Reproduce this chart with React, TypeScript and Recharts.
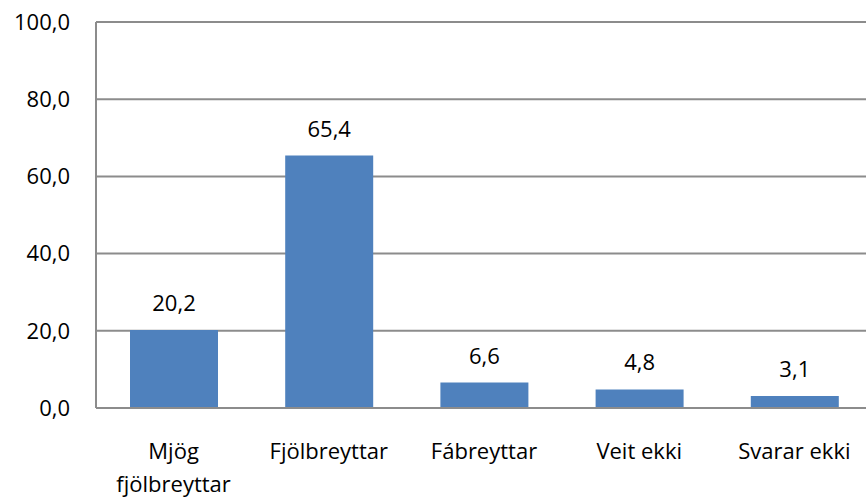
import React from "react";
import { BarChart, Bar, XAxis, YAxis, CartesianGrid, LabelList } from "recharts";

const categories = ["Mjög\nfjölbreyttar", "Fjölbreyttar", "Fábreyttar", "Veit ekki", "Svarar ekki"];
const values = [20.2, 65.4, 6.6, 4.8, 3.1];
const yTicks = [0, 20, 40, 60, 80, 100];

const data = categories.map((c, i) => ({ name: c, value: values[i] }));

const FONT = "'Open Sans', sans-serif";
const FS = 22;
const fmt = (v: number) => v.toFixed(1).replace(".", ",");

const XTick = (props: any) => {
  const { x, y, payload } = props;
  const lines = String(payload.value).split("\n");
  return (
    <g transform={`translate(${x},${y})`}>
      <text textAnchor="middle" fontFamily={FONT} fontSize={FS} fill="#000">
        {lines.map((l: string, i: number) => (
          <tspan key={i} x={0} y={51 + i * 33}>
            {l}
          </tspan>
        ))}
      </text>
    </g>
  );
};

export default function App() {
  return (
    <div style={{ position: "absolute", left: 0, top: 0, width: 866, height: 499, overflow: "hidden", background: "#fff" }}>
      <BarChart
        width={872}
        height={499}
        data={data}
        margin={{ top: 22, right: 0, left: 0, bottom: 0 }}
      >
        <CartesianGrid vertical={false} stroke="#8c8c8c" strokeWidth={2} />
        <XAxis
          dataKey="name"
          height={91}
          axisLine={{ stroke: "#8c8c8c", strokeWidth: 2 }}
          tickLine={false}
          tickSize={0}
          tickMargin={0}
          interval={0}
          tick={<XTick />}
        />
        <YAxis
          width={96}
          domain={[0, 100]}
          ticks={yTicks}
          interval={0}
          axisLine={{ stroke: "#8c8c8c", strokeWidth: 2 }}
          tickLine={false}
          tickSize={0}
          tickMargin={26}
          tickFormatter={fmt}
          tick={{ fill: "#000", fontSize: FS, fontFamily: FONT }}
        />
        <Bar dataKey="value" fill="#4F81BD" barSize={88} isAnimationActive={false}>
          <LabelList
            dataKey="value"
            position="top"
            offset={19}
            formatter={(v: any) => fmt(Number(v))}
            style={{ fill: "#000", fontSize: FS, fontFamily: FONT }}
          />
        </Bar>
      </BarChart>
    </div>
  );
}
